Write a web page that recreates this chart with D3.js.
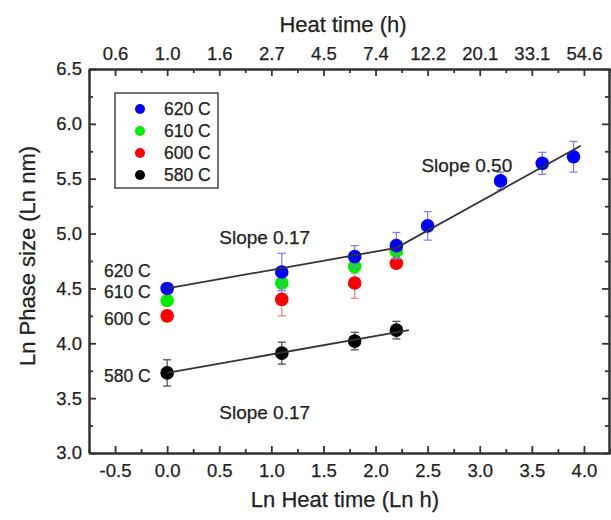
<!DOCTYPE html>
<html><head><meta charset="utf-8">
<script src="https://cdn.jsdelivr.net/npm/d3@7"></script>
<style>body{margin:0;background:#fff}svg{display:block}text{font-family:"Liberation Sans",Arial,sans-serif;fill:#222;stroke:#222;stroke-width:0.25px}</style>
</head><body><svg id="c" width="611" height="520"></svg>
<script>
// ---- data ----
const xTicks = [-0.5,0.0,0.5,1.0,1.5,2.0,2.5,3.0,3.5,4.0];
const xTickLabels = ["-0.5","0.0","0.5","1.0","1.5","2.0","2.5","3.0","3.5","4.0"];
const topTickLabels = ["0.6","1.0","1.6","2.7","4.5","7.4","12.2","20.1","33.1","54.6"];
const yTicks = [3.0,3.5,4.0,4.5,5.0,5.5,6.0,6.5];
const yTickLabels = ["3.0","3.5","4.0","4.5","5.0","5.5","6.0","6.5"];
const seriesNames = ["620 C","610 C","600 C","580 C"];
const seriesColors = ["#0000ff","#00ee00","#ff0000","#000000"];
const errColors = ["#8080ff","#66cc66","#ff8080","#555555"];
const x620 = [0,1.1,1.8,2.2,2.5,3.2,3.6,3.9];
const y620 = [4.50,4.65,4.79,4.89,5.07,5.48,5.64,5.70];
const e620 = [0.03,0.17,0.10,0.12,0.13,0.08,0.10,0.14];
const x610 = [0,1.1,1.8,2.2];
const y610 = [4.39,4.55,4.70,4.84];
const e610 = [0.03,0.05,0.06,0.04];
const x600 = [0,1.1,1.8,2.2];
const y600 = [4.25,4.40,4.55,4.73];
const e600 = [0.05,0.15,0.14,0.04];
const x580 = [0,1.1,1.8,2.2];
const y580 = [3.73,3.91,4.02,4.12];
const e580 = [0.12,0.10,0.08,0.08];
const upperFitX = [0,2.2,3.97];
const upperFitY = [4.50,4.87,5.80];
const lowerFitX = [0,2.32];
const lowerFitY = [3.73,4.12];
const leftLabels = ["620 C","610 C","600 C","580 C"];
const leftLabelY = [4.66,4.47,4.22,3.70];
const annotations = [
  {text:"Slope 0.17", x:0.5, y:4.96},
  {text:"Slope 0.17", x:0.5, y:3.37},
  {text:"Slope 0.50", x:2.44, y:5.62}
];

// ---- layout ----
const svg = d3.select("#c");
const L=89, R=610, T=69, B=453;
const x = d3.scaleLinear().domain([-0.75,4.25]).range([L,R]);
const y = d3.scaleLinear().domain([3.0,6.5]).range([B,T]);
const axisColor="#333";
const minorX = d3.range(-0.75,4.26,0.25).filter(v=>Math.abs(v*2-Math.round(v*2))>1e-6);
const minorY = d3.range(3.25,6.5,0.5);

function styleAxis(g){g.selectAll("path").attr("stroke",axisColor).attr("stroke-width",2);
  g.selectAll("line").attr("stroke",axisColor).attr("stroke-width",1.8);
  g.selectAll("text").style("font-size","18.5px").attr("fill","#222");}

// bottom
svg.append("g").attr("transform",`translate(0,${B})`)
  .call(d3.axisBottom(x).tickValues(xTicks).tickFormat((d,i)=>xTickLabels[i]).tickSizeInner(-7).tickSizeOuter(0).tickPadding(11)).call(styleAxis);
svg.append("g").attr("transform",`translate(0,${B})`)
  .call(d3.axisBottom(x).tickValues(minorX).tickFormat("").tickSizeInner(-4).tickSizeOuter(0)).call(styleAxis);
// top
svg.append("g").attr("transform",`translate(0,${T})`)
  .call(d3.axisTop(x).tickValues(xTicks).tickFormat((d,i)=>topTickLabels[i]).tickSizeInner(-7).tickSizeOuter(0).tickPadding(9)).call(styleAxis);
svg.append("g").attr("transform",`translate(0,${T})`)
  .call(d3.axisTop(x).tickValues(minorX).tickFormat("").tickSizeInner(-4).tickSizeOuter(0)).call(styleAxis);
// left
svg.append("g").attr("transform",`translate(${L},0)`)
  .call(d3.axisLeft(y).tickValues(yTicks).tickFormat((d,i)=>yTickLabels[i]).tickSizeInner(-7).tickSizeOuter(0).tickPadding(7)).call(styleAxis);
svg.append("g").attr("transform",`translate(${L},0)`)
  .call(d3.axisLeft(y).tickValues(minorY).tickFormat("").tickSizeInner(-4).tickSizeOuter(0)).call(styleAxis);
// right
svg.append("g").attr("transform",`translate(${R-1},0)`)
  .call(d3.axisRight(y).tickValues(yTicks).tickFormat("").tickSizeInner(-7).tickSizeOuter(0)).call(styleAxis);
svg.append("g").attr("transform",`translate(${R-1},0)`)
  .call(d3.axisRight(y).tickValues(minorY).tickFormat("").tickSizeInner(-4).tickSizeOuter(0)).call(styleAxis);

// titles
svg.append("text").attr("x",343).attr("y",24).attr("text-anchor","middle").attr("dominant-baseline","central").style("font-size","22px").text("Heat time (h)");
svg.append("text").attr("x",345).attr("y",499).attr("text-anchor","middle").attr("dominant-baseline","central").style("font-size","22px").text("Ln Heat time (Ln h)");
svg.append("text").attr("transform","translate(27,256) rotate(-90)").attr("text-anchor","middle").attr("dominant-baseline","central").style("font-size","22px").text("Ln Phase size (Ln nm)");

// series
const series = [
  {xs:x580,ys:y580,es:e580,i:3},
  {xs:x600,ys:y600,es:e600,i:2},
  {xs:x610,ys:y610,es:e610,i:1},
  {xs:x620,ys:y620,es:e620,i:0}
];
series.forEach(s=>{
  const pts = s.xs.map((v,k)=>({x:v,y:s.ys[k],e:s.es[k]}));
  const g = svg.append("g");
  const eb = g.selectAll("g.eb").data(pts).join("g").attr("stroke",errColors[s.i]).attr("stroke-width",1.3);
  eb.append("line").attr("x1",d=>x(d.x)).attr("x2",d=>x(d.x)).attr("y1",d=>y(d.y-d.e)).attr("y2",d=>y(d.y+d.e));
  eb.append("line").attr("x1",d=>x(d.x)-4).attr("x2",d=>x(d.x)+4).attr("y1",d=>y(d.y-d.e)).attr("y2",d=>y(d.y-d.e));
  eb.append("line").attr("x1",d=>x(d.x)-4).attr("x2",d=>x(d.x)+4).attr("y1",d=>y(d.y+d.e)).attr("y2",d=>y(d.y+d.e));
  g.selectAll("circle").data(pts).join("circle").attr("cx",d=>x(d.x)).attr("cy",d=>y(d.y)).attr("r",6.8).attr("fill",seriesColors[s.i]);
});

// fit lines
const line = d3.line().x(d=>x(d[0])).y(d=>y(d[1]));
svg.append("path").attr("d",line(upperFitX.map((v,i)=>[v,upperFitY[i]]))).attr("fill","none").attr("stroke","#333").attr("stroke-width",1.8);
svg.append("path").attr("d",line(lowerFitX.map((v,i)=>[v,lowerFitY[i]]))).attr("fill","none").attr("stroke","#333").attr("stroke-width",1.8);

// left labels
leftLabels.forEach((t,i)=>svg.append("text").attr("x",104).attr("y",y(leftLabelY[i])).attr("dominant-baseline","central").style("font-size","17.5px").text(t));
// annotations
annotations.forEach(a=>svg.append("text").attr("x",x(a.x)).attr("y",y(a.y)).attr("dominant-baseline","central").style("font-size","19px").text(a.text));

// legend
const lg = svg.append("g");
lg.append("rect").attr("x",115).attr("y",93).attr("width",103).attr("height",95).attr("fill","#fff").attr("stroke","#444").attr("stroke-width",1.5);
seriesNames.forEach((n,i)=>{
  lg.append("circle").attr("cx",140).attr("cy",109+i*22).attr("r",5).attr("fill",seriesColors[i]);
  lg.append("text").attr("x",164).attr("y",109+i*22).attr("dominant-baseline","central").style("font-size","17.5px").text(n);
});
</script></body></html>
